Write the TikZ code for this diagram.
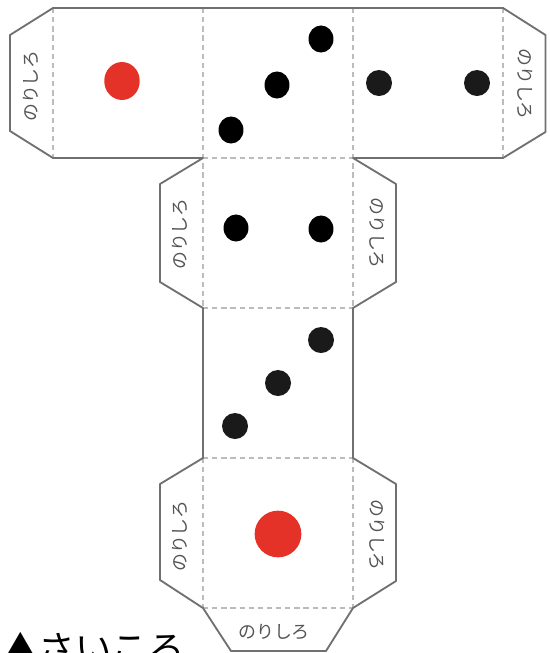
\documentclass[tikz,border=0pt]{standalone}
\usepackage{fontspec}
\newfontfamily\cjk{Noto Sans CJK JP}
\usetikzlibrary{positioning,shapes.geometric}
\definecolor{dotred}{HTML}{E53228}
\definecolor{dotblack}{HTML}{1A1A1A}
\definecolor{cutgray}{HTML}{707070}
\definecolor{foldgray}{HTML}{BCBCBC}
\definecolor{tabgray}{HTML}{555555}

\begin{document}
\begin{tikzpicture}[
    x=0.02cm, y=-0.02cm, % One unit is one pixel of the reference
    cut/.style={draw=cutgray, line width=1.05pt, line join=round},
    fold/.style={draw=foldgray, line width=0.7pt, dash pattern=on 3pt off 2.2pt},
    dot/.style={circle, fill=dotblack, inner sep=0pt, minimum size=14.8pt},
    oval/.style={ellipse, fill=black, inner sep=0pt, minimum width=14.2pt, minimum height=15.4pt},
    tab/.style={font=\cjk\fontsize{10.2pt}{12pt}\selectfont, text=tabgray, inner sep=0pt}
]
\useasboundingbox (0,0) rectangle (550,653);

% Corners of the faces
\coordinate (A) at (53,8);
\coordinate (B) at (203,8);
\coordinate (C) at (353,8);
\coordinate (D) at (503,8);
\coordinate (E) at (53,158);
\coordinate (F) at (203,158);
\coordinate (G) at (353,158);
\coordinate (H) at (503,158);
\coordinate (I) at (203,308);
\coordinate (J) at (353,308);
\coordinate (K) at (203,458);
\coordinate (L) at (353,458);
\coordinate (M) at (203,608);
\coordinate (N) at (353,608);

% Fold lines
\path[fold] (A) edge (E);
\path[fold] (B) edge (I);
\path[fold] (C) edge (J);
\path[fold] (D) edge (H);
\path[fold] (F) edge (G);
\path[fold] (I) edge (J);
\path[fold] (K) edge (L);
\path[fold] (K) edge (M);
\path[fold] (L) edge (N);
\path[fold] (M) edge (N);

% Outline
\draw[cut] (A) -- (D) -- (545.5,35) -- (545.5,132) -- (H) -- (G) -- (396,184) -- (396,282) -- (J)
    -- (L) -- (396,484) -- (396,581) -- (N) -- (326,651) -- (231,651) -- (M)
    -- (160,580) -- (160,484) -- (K) -- (I) -- (160,282) -- (160,184) -- (F)
    -- (E) -- (10,131) -- (10,35) -- cycle;

% Spots
\node[oval,fill=dotred,minimum width=20.2pt,minimum height=21.6pt] (R1) at (122,81) {};
\node[circle,fill=dotred,inner sep=0pt,minimum size=26.6pt] (R2) at (278,534) {};

\node[oval] (S1) at (321,39) {};
\node[oval] (S2) at (277,85) {};
\node[oval] (S3) at (231,130) {};
\node[dot] (S4) at (379,83) {};
\node[dot] (S5) at (477,83) {};
\node[oval] (S6) at (236,228) {};
\node[oval] (S7) at (321,229) {};
\node[dot] (S8) at (321,340) {};
\node[dot] (S9) at (278,383) {};
\node[dot] (S10) at (235,426) {};

% Glue tabs
\node[tab,rotate=90] (T1) at (31,86) {のりしろ};
\node[tab,rotate=-90] (T2) at (525,84) {のりしろ};
\node[tab,rotate=90] (T3) at (180,234) {のりしろ};
\node[tab,rotate=-90] (T4) at (377,233) {のりしろ};
\node[tab,rotate=90] (T5) at (180,536) {のりしろ};
\node[tab,rotate=-90] (T6) at (377,535) {のりしろ};
\node[tab] (T7) at (274,632) {のりしろ};

% Caption
\node[font=\cjk\fontsize{20.8pt}{24pt}\selectfont,anchor=west,inner sep=0pt] (title) at (2,649) {▲さいころ};
\end{tikzpicture}
\end{document}
